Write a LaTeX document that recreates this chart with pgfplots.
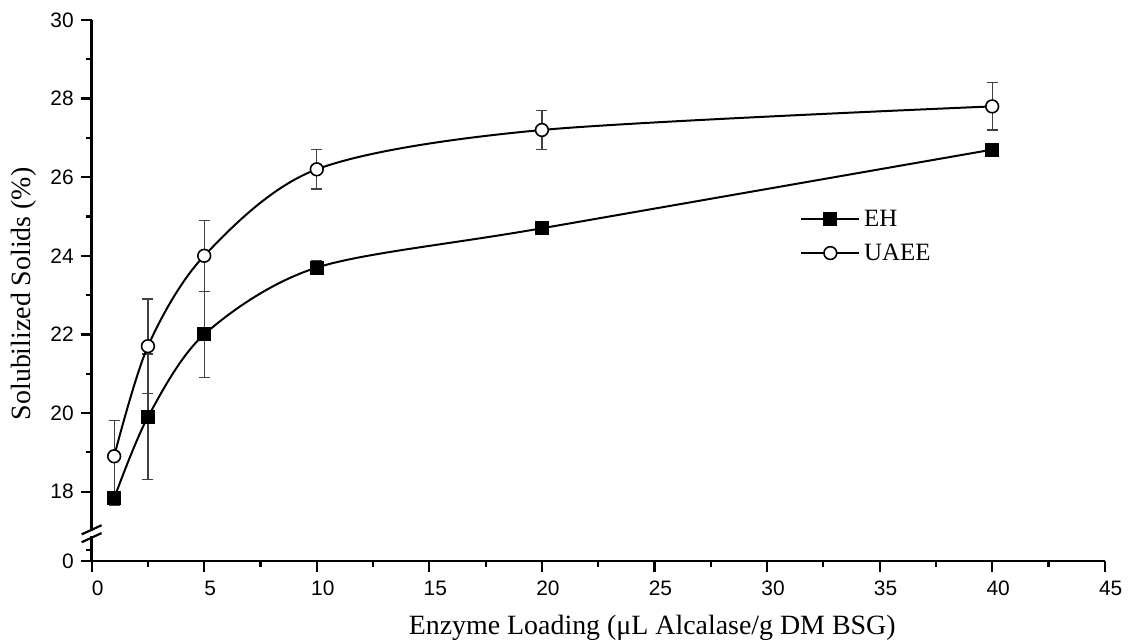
\documentclass[border=0pt]{standalone}
\usepackage{fontspec}
\setmainfont{Liberation Serif}
\newfontfamily\arial{Liberation Sans}
\usepackage{pgfplots}
\pgfplotsset{compat=1.18}

\pgfplotstableread{
x y e
1 17.83 0.18
2.5 19.9 1.6
5 22.0 1.1
10 23.7 0.18
20 24.7 0.05
40 26.7 0.05
}\EH
\pgfplotstableread{
x y e
1 18.9 0.9
2.5 21.7 1.2
5 24.0 0.9
10 26.2 0.5
20 27.2 0.5
40 27.8 0.6
}\UAEE

\begin{document}
\begin{tikzpicture}
\begin{axis}[
  scale only axis,
  width=508.5pt, height=271.5pt,
  xmin=0, xmax=45, ymin=16.24, ymax=30,
  clip=false,
  axis x line*=bottom, axis y line*=left,
  every outer x axis line/.append style={-},
  every outer y axis line/.append style={-},
  axis line style={line width=1.3pt},
  xtick={0,5,...,45},
  minor x tick num=1,
  ytick={16.24,18,20,22,24,26,28,30},
  yticklabels={0,18,20,22,24,26,28,30},
  minor ytick={16.52,19,21,23,25,27,29},
  tick align=outside,
  major tick length=5.5pt, minor tick length=3pt,
  every tick/.style={black, line width=1.1pt},
  /pgf/number format/assume math mode=true,
  ticklabel style={font=\arial\fontsize{10.5}{12}\selectfont},
  xticklabel style={yshift=-1pt, xshift=3pt},
  xlabel={Enzyme Loading (μL Alcalase/g DM BSG)},
  ylabel={Solubilized Solids (\%)},
  xlabel style={font=\fontsize{14}{16}\selectfont, inner sep=0pt, at={(axis description cs:0.3127,-0.1355)}, anchor=base west},
  ylabel style={font=\fontsize{14}{16}\selectfont, at={(axis description cs:-0.0669,0.4936)}, anchor=center, rotate=0},
  legend style={draw=none, fill=none, at={(axis cs:31.2,24.5)}, anchor=west,
    font=\fontsize{12.5}{15}\selectfont, row sep=0pt,
    nodes={inner xsep=2pt, inner ysep=2pt, text height=10pt, text depth=3pt}},
  legend cell align=left,
  legend image code/.code={\draw[mark repeat=2, mark phase=2] plot coordinates {(0pt,0pt) (14.5pt,0pt) (29pt,0pt)};},
]
\coordinate (O) at (rel axis cs:0,0);
\addplot[black, line width=1pt, smooth, tension=0.5, mark=square*, mark size=3pt,
  mark options={solid, fill=black},
  error bars/.cd, y dir=both, y explicit,
  error bar style={line width=0.6pt, black!75},
  error mark options={rotate=90, mark size=2.75pt, line width=0.6pt, black!75}]
  table[x=x, y=y, y error=e] {\EH};
\addlegendentry{EH}
\addplot[black, line width=1pt, smooth, tension=0.5, mark=*, mark size=3.2pt,
  mark options={solid, fill=white, line width=0.8pt},
  error bars/.cd, y dir=both, y explicit,
  error bar style={line width=0.6pt, black!75},
  error mark options={rotate=90, mark size=2.75pt, line width=0.6pt, black!75}]
  table[x=x, y=y, y error=e] {\UAEE};
\addlegendentry{UAEE}
% axis break
\draw[white, line width=4pt] (axis cs:0,16.86) -- (axis cs:0,17.0);
\draw[black, line width=1.1pt] ([xshift=-5pt,yshift=-2.3pt]axis cs:0,16.83) -- ([xshift=5pt,yshift=2.3pt]axis cs:0,16.83);
\draw[black, line width=1.1pt] ([xshift=-5pt,yshift=-2.3pt]axis cs:0,17.03) -- ([xshift=5pt,yshift=2.3pt]axis cs:0,17.03);
\end{axis}
\path (O) ++(-46pt,-41.5pt) rectangle ++(564.5pt,323pt);
\end{tikzpicture}
\end{document}
